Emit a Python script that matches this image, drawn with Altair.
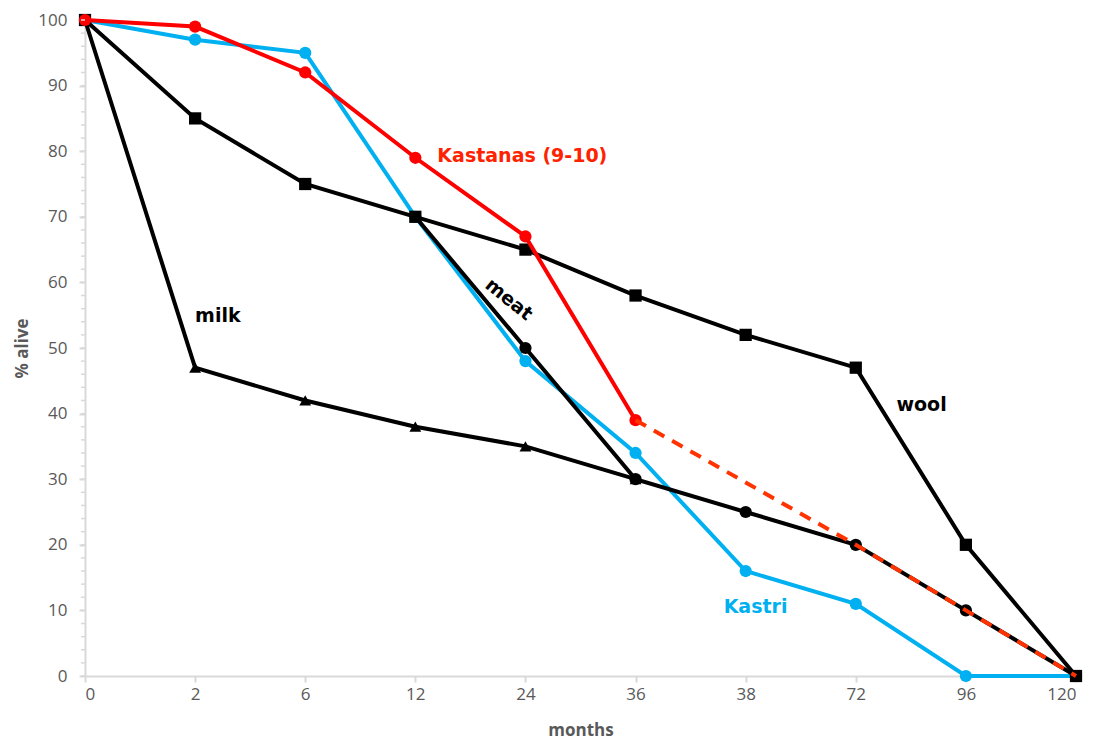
import altair as alt
import pandas as pd

months = ["0", "2", "6", "12", "24", "36", "38", "72", "96", "120"]
kastri = [100, 97, 95, 70, 48, 34, 16, 11, 0, 0]
wool = [100, 85, 75, 70, 65, 58, 52, 47, 20, 0]
milk = [100, 47, 42, 38, 35, 30]            # months index 0..5
meat_idx = [3, 4, 5, 6, 7, 8, 9]
meat = [70, 50, 30, 25, 20, 10, 0]
kast_solid = [100, 99, 92, 79, 67, 39]       # months index 0..5
kast_dash_idx = [5, 7, 8, 9]
kast_dash = [39, 20, 10, 0]
y_ticks = list(range(0, 101, 10))
y_minor = list(range(0, 101, 2))

rows = []
for i, v in enumerate(kastri):
    rows.append(dict(idx=i, value=v, series="Kastri"))
for i, v in enumerate(wool):
    rows.append(dict(idx=i, value=v, series="wool"))
for i, v in enumerate(milk):
    rows.append(dict(idx=i, value=v, series="milk"))
for i, v in zip(meat_idx, meat):
    rows.append(dict(idx=i, value=v, series="meat"))
for i, v in enumerate(kast_solid):
    rows.append(dict(idx=i, value=v, series="kast"))
for i, v in zip(kast_dash_idx, kast_dash):
    rows.append(dict(idx=i, value=v, series="kastdash"))
df = pd.DataFrame(rows)

labels = pd.DataFrame([
    dict(idx=3.2, value=79.3, text="Kastanas (9-10)", color="#FF2200"),
    dict(idx=5.8, value=10.5, text="Kastri", color="#00B0F0"),
    dict(idx=1.0, value=54.9, text="milk", color="#000000"),
    dict(idx=7.37, value=41.3, text="wool", color="#000000"),
])
meat_label = pd.DataFrame([dict(idx=3.85, value=57.4, text="meat")])

grey = "#595959"
axis_grey = "#d9d9d9"
label_expr = "[" + ",".join(f"'{m}'" for m in months) + "][datum.value]"

x_enc = alt.X("idx:Q", scale=alt.Scale(domain=[0, len(months) - 1], nice=False),
              axis=alt.Axis(values=list(range(len(months))), labelExpr=label_expr,
                            title="months"))
y_enc = alt.Y("value:Q", scale=alt.Scale(domain=[0, 100], nice=False),
              axis=alt.Axis(values=y_ticks, title="% alive"))

base = alt.Chart(df).encode(x=x_enc, y=y_enc)

def line(series, color, shape, size, dash=None, points=True, pts_filter=None):
    f = alt.datum.series == series
    kw = dict(color=color, strokeWidth=4)
    if dash:
        kw["strokeDash"] = dash
    out = [base.transform_filter(f).mark_line(**kw)]
    if points:
        pf = f if pts_filter is None else (f & pts_filter)
        out.append(base.transform_filter(pf).mark_point(shape=shape, size=size, filled=True,
                                                        color=color, opacity=1))
    return out

layers = []
layers += line("Kastri", "#00B0F0", "circle", 150)
layers += line("wool", "#000000", "square", 150)
layers += line("milk", "#000000", "triangle-up", 140, pts_filter=alt.datum.idx > 0)
layers += line("meat", "#000000", "circle", 150, pts_filter=alt.datum.idx > 3)
layers += line("kast", "#FF0000", "circle", 150)
layers += line("kastdash", "#FF3300", "circle", 40, dash=[12, 9], points=False)

minor = alt.Chart(pd.DataFrame({"value": y_minor})).mark_rule(
    color=axis_grey, strokeWidth=1.5).encode(
    y=alt.Y("value:Q"), x=alt.value(-4), x2=alt.value(0))

text = alt.Chart(labels).mark_text(align="left", baseline="middle", fontSize=19,
                                   fontWeight="bold", font="DejaVu Sans").encode(
    x="idx:Q", y="value:Q", text="text:N", color=alt.Color("color:N", scale=None))
meat_text = alt.Chart(meat_label).mark_text(align="center", baseline="middle", fontSize=19,
                                            fontWeight="bold", font="DejaVu Sans", angle=39,
                                            color="#000000").encode(
    x="idx:Q", y="value:Q", text="text:N")
layers += [minor, text, meat_text]

chart = alt.layer(*layers).properties(
    width=991, height=656, padding={"left": 5, "top": 3, "right": 5, "bottom": 4}
).configure_view(stroke=None).configure_axis(
    grid=False, domainColor=axis_grey, domainWidth=2, tickColor=axis_grey,
    tickWidth=2, tickSize=6, labelColor=grey, labelFontSize=17,
    titleColor=grey, titleFontSize=17, titleFontWeight="bold",
    labelFont="Open Sans", titleFont="Open Sans", labelFontWeight="normal"
).configure_axisX(labelPadding=4, titlePadding=20).configure_axisY(
    labelPadding=12, titlePadding=6)

chart.save("out.html", embed_options={"renderer": "svg", "actions": False})
